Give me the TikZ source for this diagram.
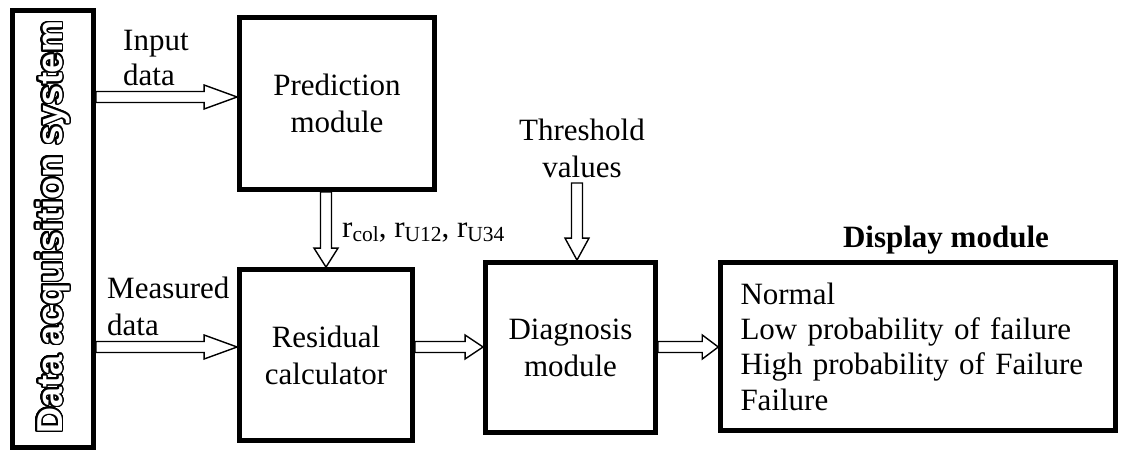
\documentclass[tikz,border=0pt]{standalone}
\usepackage{fontspec}
\setmainfont{Liberation Serif}
\newfontfamily\dasfont{Liberation Sans}
\usepackage{contour}
\contourlength{1.5pt}
\contournumber{32}
\usetikzlibrary{calc}
\tikzset{
  blk/.style={draw, line width=4.8pt, inner sep=0pt, align=center, font=\fontsize{31}{37}\selectfont},
  lbl/.style={inner sep=0pt, font=\fontsize{31}{35}\selectfont},
  barrow/.style={draw, line width=1.4pt, fill=white, line join=miter},
}
\newcommand\rsub[1]{\raisebox{-4pt}{\fontsize{21.5}{21.5}\selectfont #1}}
\newcommand\harr[3]{%
  \draw[barrow] let \p1=(#1), \p2=(#2) in
    (\x1,{\y1+5.5pt}) -- ({\x2-#3pt},{\y1+5.5pt}) -- ({\x2-#3pt},{\y1+12pt}) -- (\x2,\y1)
    -- ({\x2-#3pt},{\y1-12pt}) -- ({\x2-#3pt},{\y1-5.5pt}) -- (\x1,{\y1-5.5pt}) -- cycle;}
\newcommand\varr[3]{%
  \draw[barrow] let \p1=(#1), \p2=(#2) in
    ({\x1-5.5pt},\y1) -- ({\x1-5.5pt},{\y2+#3pt}) -- ({\x1-12pt},{\y2+#3pt}) -- (\x1,\y2)
    -- ({\x1+12pt},{\y2+#3pt}) -- ({\x1+5.5pt},{\y2+#3pt}) -- ({\x1+5.5pt},\y1) -- cycle;}
\begin{document}
\begin{tikzpicture}[x=1pt,y=-1pt]
\fill[white] (0,0) rectangle (1125,455);
\useasboundingbox (0,0) rectangle (1125,455);

\coordinate (yin) at (0,97);
\coordinate (ymeas) at (0,347);
\coordinate (xv) at (326,0);
\coordinate (thr) at (577,183);

\node[blk, line width=5pt, minimum width=81pt, minimum height=437pt] (das) at (53,229) {};
\node[rotate=90, inner sep=0pt] (dastxt) at (53.5,227)
  {\dasfont\bfseries\fontsize{36}{36}\selectfont\color{white}\contour{black}{Data acquisition system}};

\node[blk, minimum width=195pt, minimum height=172pt] (pred) at (337,103.5) {Prediction\\module};
\node[blk, minimum width=173pt, minimum height=171pt] (resid) at (326,355) {Residual\\calculator};
\node[blk, minimum width=170pt, minimum height=170pt] (diag) at (570.5,347.5) {Diagnosis\\module};
\node[blk, line width=4.5pt, minimum width=395pt, minimum height=168pt, align=left, text width=355pt,
  font=\fontsize{31}{35.3}\selectfont] (disp) at (918,346.5)
  {Normal\\Low probability of failure\\High probability of Failure\\Failure};

\node[lbl, anchor=base west] (in1) at (123,50) {Input};
\node[lbl, anchor=base west] (in2) at (123,85) {data};
\node[lbl, anchor=base west] (me1) at (107,298) {Measured};
\node[lbl, anchor=base west] (me2) at (107,335) {data};
\node[lbl, anchor=base] (th1) at (582,140) {Threshold};
\node[lbl, anchor=base] (th2) at (582,177) {values};
\node[lbl, anchor=base west] (rl) at (342,237) {r\rsub{col}, r\rsub{U12}, r\rsub{U34}};
\node[lbl, anchor=base, font=\fontsize{31}{35}\selectfont\bfseries] (dm) at (946,247) {Display module};

\harr{das.east |- yin}{pred.west |- yin}{33}
\harr{das.east |- ymeas}{resid.west |- ymeas}{33}
\varr{pred.south -| xv}{resid.north -| xv}{19}
\varr{thr}{diag.north -| thr}{22}
\harr{resid.east |- ymeas}{diag.west |- ymeas}{18}
\harr{diag.east |- ymeas}{disp.west |- ymeas}{16}
\end{tikzpicture}
\end{document}
